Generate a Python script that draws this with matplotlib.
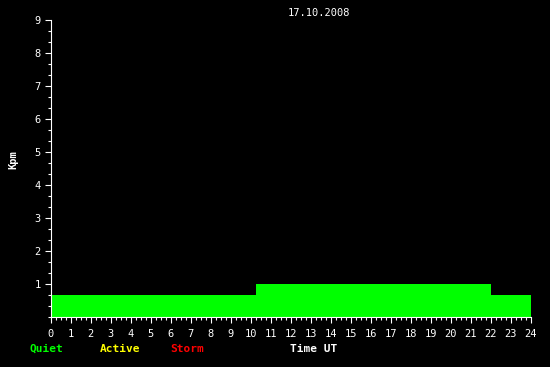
import matplotlib
matplotlib.use('Agg')
import matplotlib.pyplot as plt
from matplotlib.ticker import MultipleLocator

# Kpm over the day, as steps (start hour, end hour, value)
seg_start = [0, 10.25, 22]
seg_end = [10.25, 22, 24]
kpm = [0.67, 1.0, 0.67]

date_label = '17.10.2008'
x_ticks = list(range(0, 25))
y_ticks = list(range(1, 10))

font = 'DejaVu Sans Mono'

fig = plt.figure(figsize=(5.5, 3.67), dpi=100, facecolor='black')
ax = fig.add_axes([50.5 / 550, 50 / 367, 480 / 550, 297 / 367])
ax.set_facecolor('black')

widths = [e - s for s, e in zip(seg_start, seg_end)]
ax.bar(seg_start, kpm, width=widths, align='edge', color='#00ff00', linewidth=0)

ax.set_xlim(0, 24)
ax.set_ylim(0, 9)
ax.set_xticks(x_ticks)
ax.set_yticks(y_ticks)
ax.xaxis.set_minor_locator(MultipleLocator(0.25))
ax.yaxis.set_minor_locator(MultipleLocator(1 / 3))

for side in ['top', 'right']:
    ax.spines[side].set_visible(False)
for side in ['left', 'bottom']:
    ax.spines[side].set_color('white')
    ax.spines[side].set_linewidth(0.8)

ax.tick_params(which='major', colors='white', length=4, width=0.8,
               labelsize=7.5, pad=4.5)
ax.tick_params(which='minor', colors='white', length=2.2, width=0.8)
ax.tick_params(axis='y', pad=3)
for lab in ax.get_xticklabels() + ax.get_yticklabels():
    lab.set_family(font)

fig.text(319 / 550, 1 - 13 / 367, date_label, color='white', fontsize=7.5,
         family=font, ha='center', va='center')
fig.text(13 / 550, 1 - 160 / 367, 'Kpm', color='white', fontsize=7.5,
         family=font, weight='bold', rotation=90, ha='center', va='center')

fig.text(30 / 550, 1 - 349 / 367, 'Quiet', color='#00ff00', fontsize=8,
         family=font, weight='bold', ha='left', va='center')
fig.text(100 / 550, 1 - 349 / 367, 'Active', color='#ffff00', fontsize=8,
         family=font, weight='bold', ha='left', va='center')
fig.text(170 / 550, 1 - 349 / 367, 'Storm', color='#ff0000', fontsize=8,
         family=font, weight='bold', ha='left', va='center')
fig.text(290 / 550, 1 - 349 / 367, 'Time UT', color='white', fontsize=8,
         family=font, weight='bold', ha='left', va='center')

fig.savefig('out.png', dpi=100, facecolor='black')
